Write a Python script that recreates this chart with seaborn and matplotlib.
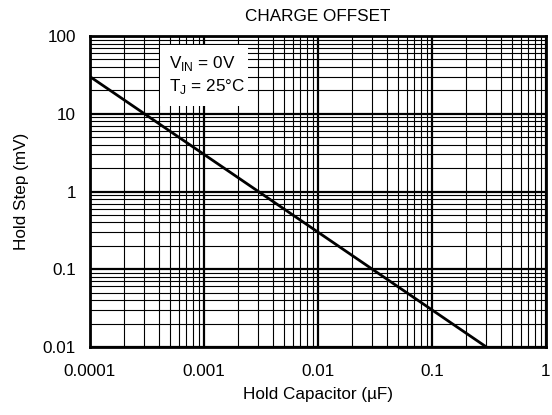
import matplotlib
matplotlib.use("Agg")
import matplotlib.pyplot as plt
import seaborn as sns
import pandas as pd
from matplotlib.patches import Rectangle
from matplotlib.ticker import LogLocator, FixedLocator, FixedFormatter, NullFormatter

sns.set_theme(style="white")
plt.rcParams['font.family'] = ['Liberation Sans', 'DejaVu Sans']
plt.rcParams['mathtext.fontset'] = 'custom'
plt.rcParams['mathtext.rm'] = 'Liberation Sans'
plt.rcParams['text.color'] = 'black'
plt.rcParams['axes.labelcolor'] = 'black'
plt.rcParams['xtick.color'] = 'black'
plt.rcParams['ytick.color'] = 'black'

# Data
hold_capacitor_uF = [0.0001, 0.3]
hold_step_mV = [30, 0.01]
x_tick_values = [0.0001, 0.001, 0.01, 0.1, 1]
x_tick_labels = ["0.0001", "0.001", "0.01", "0.1", "1"]
y_tick_values = [0.01, 0.1, 1, 10, 100]
y_tick_labels = ["0.01", "0.1", "1", "10", "100"]
condition_lines = ["V$_{\\mathregular{IN}}$ = 0V", "T$_{\\mathregular{J}}$ = 25\u00b0C"]

df = pd.DataFrame({"C": hold_capacitor_uF, "V": hold_step_mV})

FS = 12.3

fig = plt.figure(figsize=(5.52, 4.15), dpi=100)
ax = fig.add_axes([90/552, 1-347/415, 456/552, 311/415])
ax.set_xscale("log")
ax.set_yscale("log")
ax.set_xlim(0.0001, 1)
ax.set_ylim(0.01, 100)

ax.xaxis.set_major_locator(FixedLocator(x_tick_values))
ax.xaxis.set_major_formatter(FixedFormatter(x_tick_labels))
ax.yaxis.set_major_locator(FixedLocator(y_tick_values))
ax.yaxis.set_major_formatter(FixedFormatter(y_tick_labels))
ax.xaxis.set_minor_locator(LogLocator(base=10, subs=range(2, 10), numticks=20))
ax.yaxis.set_minor_locator(LogLocator(base=10, subs=range(2, 10), numticks=20))
ax.xaxis.set_minor_formatter(NullFormatter())
ax.yaxis.set_minor_formatter(NullFormatter())

ax.grid(which="major", color="black", linewidth=1.6)
ax.grid(which="minor", color="black", linewidth=0.8)
ax.set_axisbelow(True)

sns.lineplot(data=df, x="C", y="V", ax=ax, color="black", linewidth=2.0, zorder=3)

for s in ax.spines.values():
    s.set_color("black")
    s.set_linewidth(2.0)
    s.set_zorder(5)

ax.tick_params(axis="x", which="both", length=0, labelsize=FS, labelcolor="black", pad=12)
ax.tick_params(axis="y", which="both", length=0, labelsize=FS, labelcolor="black", pad=10)
ax.set_xlabel("Hold Capacitor (\u00b5F)", fontsize=FS, labelpad=6, color="black")
ax.set_ylabel("Hold Step (mV)", fontsize=FS, labelpad=10, color="black")
ax.set_title("CHARGE OFFSET", fontsize=FS, pad=11, x=0.5, color="black")

# white background box behind conditions text
ax.add_patch(Rectangle(((160-90)/456, (347-106)/311), (248-160)/456, (106-45)/311,
                       transform=ax.transAxes, facecolor="white", edgecolor="none", zorder=2))
ax.text((169-90)/456, (347-68)/311, condition_lines[0], transform=ax.transAxes,
        ha="left", va="baseline", fontsize=FS, zorder=4, color="black")
ax.text((169-90)/456, (347-91)/311, condition_lines[1], transform=ax.transAxes,
        ha="left", va="baseline", fontsize=FS, zorder=4, color="black")

fig.savefig("out.png", dpi=100)
